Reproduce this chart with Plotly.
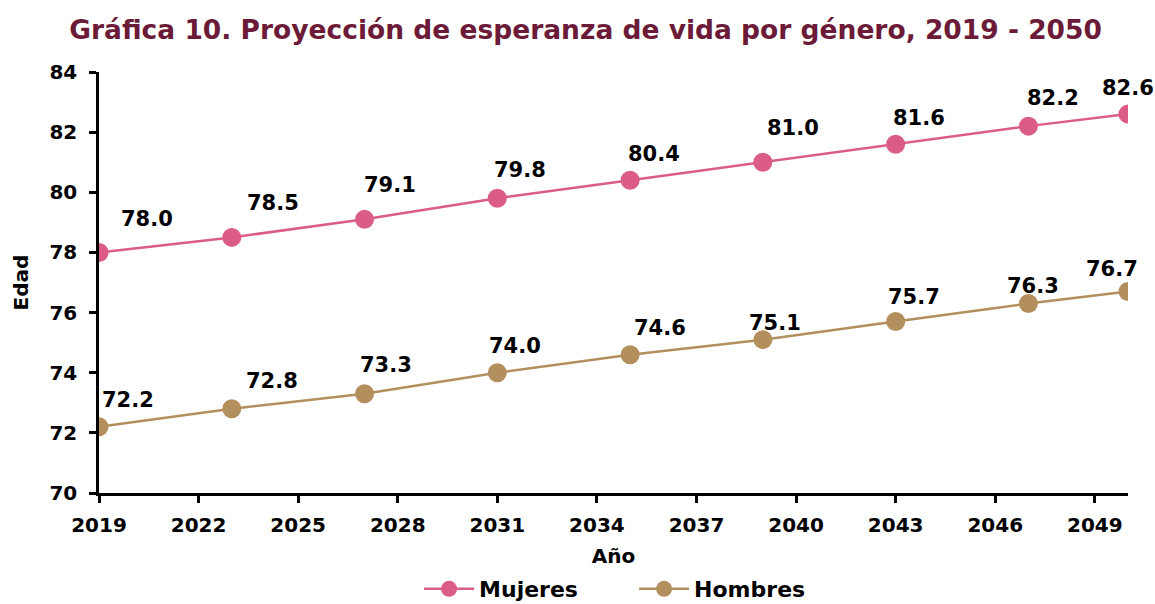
import plotly.graph_objects as go

years = [2019, 2023, 2027, 2031, 2035, 2039, 2043, 2047, 2050]
mujeres = [78.0, 78.5, 79.1, 79.8, 80.4, 81.0, 81.6, 82.2, 82.6]
hombres = [72.2, 72.8, 73.3, 74.0, 74.6, 75.1, 75.7, 76.3, 76.7]
series_names = ["Mujeres", "Hombres"]
x_ticks = [2019, 2022, 2025, 2028, 2031, 2034, 2037, 2040, 2043, 2046, 2049]
y_ticks = [70, 72, 74, 76, 78, 80, 82, 84]

# label offsets in pixels (styling)
muj_off = [(48, 33), (41, 34), (25, 34), (23, 28), (24, 26), (30, 34), (23, 26), (25, 28), (0, 26)]
hom_off = [(29, 27), (40, 28), (21, 29), (18, 27), (30, 27), (12, 17), (18, 25), (5, 18), (-16, 23)]

FONT = "DejaVu Sans"
C_M = "#DB5C85"
C_H = "#B48F5E"

fig = go.Figure()
fig.add_trace(go.Scatter(x=years, y=mujeres, name=series_names[0], mode="lines+markers",
                         line=dict(color=C_M, width=2.5), marker=dict(size=19, color=C_M)))
fig.add_trace(go.Scatter(x=years, y=hombres, name=series_names[1], mode="lines+markers",
                         line=dict(color=C_H, width=2.5), marker=dict(size=19, color=C_H)))

annots = []
for vals, offs in ((mujeres, muj_off), (hombres, hom_off)):
    for x, v, (dx, dy) in zip(years, vals, offs):
        annots.append(dict(x=x, y=v, xref="x", yref="y", text=f"{v:.1f}",
                           showarrow=False, xshift=dx, yshift=dy,
                           font=dict(family=FONT, size=21, color="black", weight="bold")))

fig.update_layout(
    width=1155, height=604,
    paper_bgcolor="white", plot_bgcolor="white",
    margin=dict(l=99, r=27, t=72, b=111, autoexpand=False),
    title=dict(text="Gráfica 10. Proyección de esperanza de vida por género, 2019 - 2050",
               x=0.507, xanchor="center", yref="container", y=0.95, yanchor="middle",
               font=dict(family=FONT, size=26.5, color="#6B1A38", weight="bold")),
    font=dict(family=FONT, size=20, color="black", weight="bold"),
    annotations=annots,
    showlegend=True,
    legend=dict(orientation="h", x=0.52, xanchor="center", y=-0.228, yanchor="middle",
                font=dict(family=FONT, size=22, color="black", weight="bold"), itemwidth=50,
                entrywidthmode="pixels", entrywidth=150),
    xaxis=dict(range=[2019, 2050], tickvals=x_ticks,
               showgrid=False, zeroline=False, showline=True, linecolor="black", linewidth=2.5,
               ticks="outside", ticklen=7, tickwidth=2.5, tickcolor="black", ticklabelstandoff=5,
               tickfont=dict(family=FONT, size=20, weight="bold"),
               title=dict(text="Año", font=dict(family=FONT, size=20, weight="bold"), standoff=14)),
    yaxis=dict(range=[70, 84], tickvals=y_ticks,
               showgrid=False, zeroline=False, showline=True, linecolor="black", linewidth=2.5,
               ticks="outside", ticklen=7, tickwidth=2.5, tickcolor="black", ticklabelstandoff=8,
               tickfont=dict(family=FONT, size=20, weight="bold"),
               title=dict(text="Edad", font=dict(family=FONT, size=20, weight="bold"), standoff=16)),
)
fig.write_html("out.html", config={"displayModeBar": False},
               post_script="document.body.style.margin='0';")
